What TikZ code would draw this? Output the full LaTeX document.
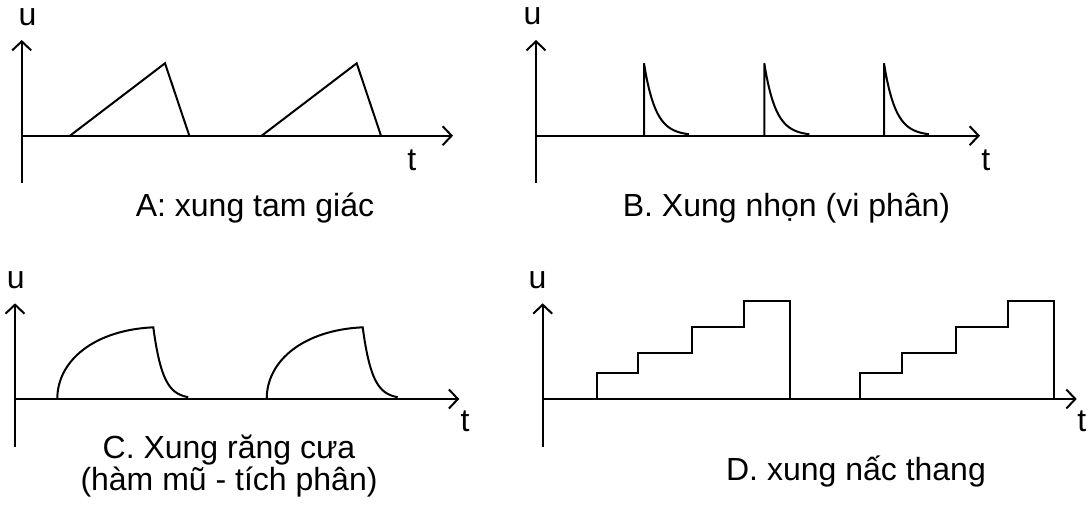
\documentclass[tikz,border=0pt]{standalone}
\usepackage{fontspec}
\setmainfont{Liberation Sans}
\usetikzlibrary{arrows.meta}
\tikzset{
  wave/.style={line width=2pt, line join=miter},
  axis/.style={line width=2pt, -{Straight Barb[length=9pt,width=19pt]}},
  lbl/.style={anchor=base, inner sep=0pt, font=\fontsize{32}{27}\selectfont},
}
\begin{document}
\begin{tikzpicture}[x=1pt,y=-1pt]
\useasboundingbox (0,0) rectangle (1091,508);
% ---------- A ----------
\draw[axis] (21.7,183) -- (21.7,40);
\draw[axis] (21.7,135.7) -- (453,135.7);
\foreach \s in {0,191.7}{
  \draw[wave] (70+\s,135.7) -- (165+\s,63.3) -- (189.3+\s,135.7);
}
\node[lbl] (uA) at (27.5,26) {u};
\node[lbl] (tA) at (411.7,170) {t};
\node[lbl] (capA) at (255,216.7) {A: xung tam giác};
% ---------- B ----------
\draw[axis] (536,183) -- (536,40);
\draw[axis] (536,135.7) -- (980,135.7);
\foreach \p in {644,764.3,884}{
  \draw[wave] (\p,135.7) -- (\p,63.3) -- plot[domain=0:45, samples=50, smooth] ({\p+\x},{135.7-72.4*exp(-\x/11.5)});
}
\node[lbl] (uB) at (532.5,25) {u};
\node[lbl] (tB) at (985.8,170) {t};
\node[lbl] (capB) at (786.5,216.7) {B. Xung nhọn (vi phân)};
% ---------- C ----------
\draw[axis] (15,446.7) -- (15,303.3);
\draw[axis] (15,399) -- (459.3,399);
\foreach \s in {0,209.4}{
  \draw[wave] (57.3+\s,399) .. controls (57.3+\s,360) and (95+\s,330) .. (153.3+\s,327.3)
     -- plot[domain=0:35, samples=50, smooth] ({153.3+\s+\x},{399-71.7*exp(-\x/9.5)});
}
\node[lbl] (uC) at (15.8,288.3) {u};
\node[lbl] (tC) at (465,431.7) {t};
\node[lbl, align=center] (capC) at (229,490) {C. Xung răng cưa\\(hàm mũ - tích phân)};
% ---------- D ----------
\draw[axis] (542.7,446.7) -- (542.7,303.3);
\draw[axis] (542.7,399) -- (1076.7,399);
\draw[wave] (596.7,399) -- (596.7,373.3) -- (638.3,373.3) -- (638.3,353.3) -- (692.3,353.3)
  -- (692.3,327.3) -- (744,327.3) -- (744,301.3) -- (790,301.3) -- (790,399);
\draw[wave] (860,399) -- (860,373.3) -- (902.3,373.3) -- (902.3,353.3) -- (956,353.3)
  -- (956,327.3) -- (1008,327.3) -- (1008,301.3) -- (1054,301.3) -- (1054,399);
\node[lbl] (uD) at (537.5,288.3) {u};
\node[lbl] (tD) at (1081.7,431.7) {t};
\node[lbl] (capD) at (856,480) {D. xung nấc thang};
\end{tikzpicture}
\end{document}
